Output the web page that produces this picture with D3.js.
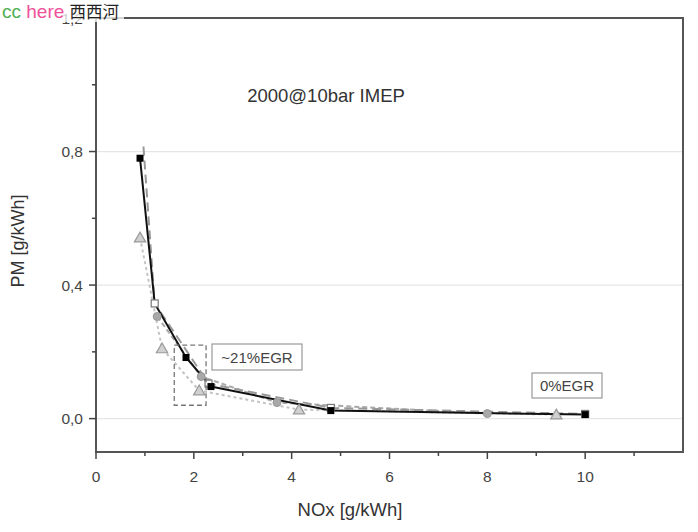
<!DOCTYPE html>
<html><head><meta charset="utf-8">
<script src="https://cdn.jsdelivr.net/npm/d3@7/dist/d3.min.js"></script>
<style>body{margin:0;background:#fff}svg{display:block;font-family:Arial,"Liberation Sans",sans-serif}</style>
</head><body>
<svg id="c" width="698" height="532"></svg>
<script>
// ---- data ----
const xTicks = [0, 2, 4, 6, 8, 10];
const yTicks = [0.0, 0.4, 0.8, 1.2];
const yTickLabels = ["0,0", "0,4", "0,8", "1,2"];
const title = "2000@10bar IMEP";
const xLabel = "NOx [g/kWh]";
const yLabel = "PM [g/kWh]";
// black solid squares
const squaresX = [0.9, 1.2, 1.84, 2.35, 4.8, 10.0];
const squaresY = [0.78, 0.345, 0.183, 0.096, 0.024, 0.012];
// gray long-dash, open squares
const openSqX = [0.97, 1.2, 2.3, 4.8, 10.0];
const openSqY = [0.815, 0.345, 0.105, 0.032, 0.014];
// gray circles, short dash
const circlesX = [1.25, 2.15, 3.7, 8.0];
const circlesY = [0.306, 0.126, 0.048, 0.015];
// gray triangles, dotted
const trianglesX = [0.9, 1.35, 2.11, 4.15, 9.41];
const trianglesY = [0.542, 0.21, 0.084, 0.027, 0.012];
// annotations (data coords)
const egrBox = {x0: 1.6, x1: 2.25, y0: 0.04, y1: 0.22};
const label21 = "~21%EGR";
const label0 = "0%EGR";

// ---- chart ----
const svg = d3.select("#c");
const x = d3.scaleLinear().domain([0, 12]).range([96, 683]);
const y = d3.scaleLinear().domain([-0.1, 1.2]).range([452, 18]);
const zip = (a, b) => a.map((v, i) => [v, b[i]]);

// grid
svg.append("g").selectAll("line").data(yTicks.slice(0,3)).join("line")
  .attr("x1", x(0)).attr("x2", x(12)).attr("y1", d => y(d)).attr("y2", d => y(d))
  .attr("stroke", "#e6e6e6").attr("stroke-width", 1.2);

// frame
svg.append("rect").attr("x", x(0)).attr("y", y(1.2)).attr("width", x(12)-x(0)).attr("height", y(-0.1)-y(1.2))
  .attr("fill", "none").attr("stroke", "#555").attr("stroke-width", 2);

// axes
const gx = svg.append("g").attr("transform", `translate(0,${y(-0.1)})`);
gx.selectAll("line").data(d3.range(0, 12, 1)).join("line")
  .attr("x1", d => x(d)).attr("x2", d => x(d)).attr("y1", 0).attr("y2", d => d % 2 === 0 ? 7 : 4)
  .attr("stroke", "#444").attr("stroke-width", 1.5);
gx.selectAll("text").data(xTicks).join("text")
  .attr("x", d => x(d)).attr("y", 30).attr("text-anchor", "middle")
  .attr("font-size", 15.5).attr("fill", "#444").text(d => d);

const gy = svg.append("g").attr("transform", `translate(${x(0)},0)`);
gy.selectAll("line").data([0, 0.2, 0.4, 0.6, 0.8, 1.0, 1.2]).join("line")
  .attr("y1", d => y(d)).attr("y2", d => y(d))
  .attr("x1", (d, i) => i % 2 === 0 ? -7 : -4).attr("x2", 0)
  .attr("stroke", "#444").attr("stroke-width", 1.5);
gy.selectAll("text").data(yTicks).join("text")
  .attr("x", -13).attr("y", d => y(d) + 5.5).attr("text-anchor", "end")
  .attr("font-size", 15.5).attr("fill", "#444").text((d, i) => yTickLabels[i]);

// axis labels
svg.append("text").attr("x", 350).attr("y", 516).attr("text-anchor", "middle")
  .attr("font-size", 18.5).attr("fill", "#333").text(xLabel);
svg.append("text").attr("transform", `translate(24,241) rotate(-90)`).attr("text-anchor", "middle")
  .attr("font-size", 18).attr("fill", "#333").text(yLabel);

// title
svg.append("text").attr("x", 326).attr("y", 102).attr("text-anchor", "middle")
  .attr("font-size", 18.5).attr("fill", "#333").text(title);

const line = d3.line().x(d => x(d[0])).y(d => y(d[1]));

// series lines
svg.append("path").datum(zip(trianglesX, trianglesY)).attr("d", line)
  .attr("fill", "none").attr("stroke", "#c4c4c4").attr("stroke-width", 2).attr("stroke-dasharray", "3,3");
svg.append("path").datum(zip(circlesX, circlesY)).attr("d", line)
  .attr("fill", "none").attr("stroke", "#aaa").attr("stroke-width", 2).attr("stroke-dasharray", "5,3");
svg.append("path").datum(zip(openSqX, openSqY)).attr("d", line)
  .attr("fill", "none").attr("stroke", "#999").attr("stroke-width", 2).attr("stroke-dasharray", "9,5");
svg.append("path").datum(zip(squaresX, squaresY)).attr("d", line)
  .attr("fill", "none").attr("stroke", "#111").attr("stroke-width", 2);

// markers
svg.append("g").selectAll("path").data(zip(trianglesX, trianglesY)).join("path")
  .attr("d", d3.symbol(d3.symbolTriangle, 55))
  .attr("transform", d => `translate(${x(d[0])},${y(d[1])+1})`)
  .attr("fill", "#d0d0d0").attr("stroke", "#999").attr("stroke-width", 1.2);
svg.append("g").selectAll("circle").data(zip(circlesX, circlesY)).join("circle")
  .attr("cx", d => x(d[0])).attr("cy", d => y(d[1])).attr("r", 4)
  .attr("fill", "#a8a8a8").attr("stroke", "#999");
svg.append("g").selectAll("rect").data(zip(openSqX, openSqY).slice(1)).join("rect")
  .attr("x", d => x(d[0]) - 3.5).attr("y", d => y(d[1]) - 3.5).attr("width", 7).attr("height", 7)
  .attr("fill", "#fff").attr("stroke", "#777").attr("stroke-width", 1.2);
svg.append("g").selectAll("rect").data(zip(squaresX, squaresY).filter((d, i) => i !== 1)).join("rect")
  .attr("x", d => x(d[0]) - 3.5).attr("y", d => y(d[1]) - 3.5).attr("width", 7).attr("height", 7)
  .attr("fill", "#000");

// dashed EGR box
svg.append("rect").attr("x", x(egrBox.x0)).attr("y", y(egrBox.y1))
  .attr("width", x(egrBox.x1) - x(egrBox.x0)).attr("height", y(egrBox.y0) - y(egrBox.y1))
  .attr("fill", "none").attr("stroke", "#777").attr("stroke-width", 1.3).attr("stroke-dasharray", "5,3");

// label boxes
function labelBox(cx, cy, w, h, t) {
  const g = svg.append("g");
  g.append("rect").attr("x", cx - w/2).attr("y", cy - h/2).attr("width", w).attr("height", h)
    .attr("fill", "#fff").attr("stroke", "#999").attr("stroke-width", 1.2);
  g.append("text").attr("x", cx).attr("y", cy + 5.5).attr("text-anchor", "middle")
    .attr("font-size", 15).attr("fill", "#444").text(t);
}
labelBox(257, 357, 90, 26, label21);
labelBox(567, 385.5, 70, 25, label0);

// watermark
svg.append("rect").attr("x", 0).attr("y", 0).attr("width", 124).attr("height", 22).attr("fill", "#fff").attr("opacity", 0.75);
const wm = svg.append("text").attr("x", 2).attr("y", 18).attr("font-size", 19);
wm.append("tspan").attr("fill", "#4caf50").text("cc ");
wm.append("tspan").attr("fill", "#f0509a").text("here ");
wm.append("tspan").attr("fill", "#222").attr("font-family", "Noto Sans CJK SC").attr("font-size", 16.5).text("西西河");
</script>
</body></html>
